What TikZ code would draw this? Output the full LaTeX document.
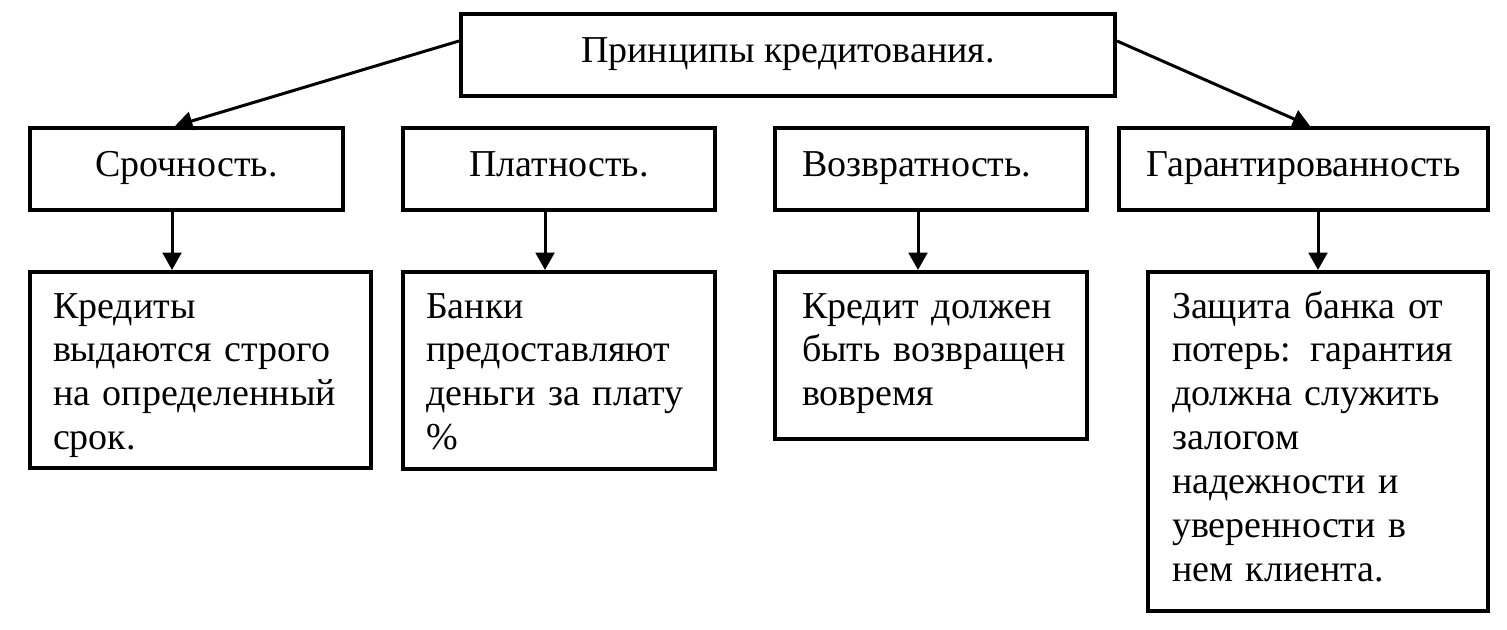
\documentclass[tikz,border=0pt]{standalone}
\usepackage{fontspec}
\setmainfont{Liberation Serif}
\usetikzlibrary{arrows.meta,calc}
\begin{document}
\begin{tikzpicture}[x=0.75pt,y=-0.75pt,
  every node/.style={font=\fontsize{28.5}{32.9}\selectfont, text=black},
  box/.style={draw=black, line width=3pt, rectangle, anchor=north west, inner sep=0pt,
    text height=18pt, text depth=7.5pt, minimum height=61.5pt, align=center},
  lowbox/.style={draw=black, line width=3pt, rectangle, anchor=north west, align=left,
    inner ysep=0pt, text height=34.5pt},
  arr/.style={line width=2.25pt, -{Triangle[length=13pt,width=14pt]}}
]
\useasboundingbox (0,0) rectangle (1507,629);
\fill[white] (0,0) rectangle (1507,629);

% top
\node[box, minimum width=490.5pt] (top) at (459,12) {Принципы кредитования.};

% second row
\node[box, minimum width=234.75pt] (a) at (28,126) {Срочность.};
\node[box, minimum width=234pt] (b) at (401,126) {Платность.};
\node[box, align=left, inner xsep=20.25pt, text width=193.5pt] (c) at (773,126) {Возвратность.};
\node[box, minimum width=276.75pt] (d) at (1117,126) {Гарантированность};

% third row
\node[lowbox, inner xsep=17.25pt, text width=221.25pt, text depth=112.5pt] (a2) at (28,270)
  {\mbox{Кредиты}\\\mbox{выдаются строго}\\\mbox{на определенный}\\\mbox{срок.}};
\node[lowbox, inner xsep=17.25pt, text width=199.5pt, text depth=113.25pt] (b2) at (401,270)
  {\mbox{Банки}\\\mbox{предоставляют}\\\mbox{деньги за плату}\\\mbox{\%}};
\node[lowbox, inner xsep=20.25pt, text width=193.5pt, text depth=90.75pt] (c2) at (773,270)
  {\mbox{Кредит должен}\\\mbox{быть возвращен}\\\mbox{вовремя}};
\node[lowbox, inner xsep=18pt, text width=219pt, text depth=219.75pt] (d2) at (1146,270)
  {\mbox{Защита банка от}\\\mbox{потерь: гарантия}\\\mbox{должна служить}\\\mbox{залогом}\\\mbox{надежности и}\\\mbox{уверенности в}\\\mbox{нем клиента.}};

% connector start points
\coordinate (as) at ($(a.south)+(-14.5,0)$);
\coordinate (bs) at ($(b.south)+(-14,0)$);
\coordinate (cs) at ($(c.south)+(-13,0)$);
\coordinate (ds) at ($(d.south)+(14.5,0)$);
\coordinate (tl) at ($(top.west)+(0,-14)$);
\coordinate (tr) at ($(top.east)+(0,-14)$);
\coordinate (ae) at ($(a.north)+(-11.5,0)$);
\coordinate (de) at ($(d.north)+(6.5,0)$);

% connectors
\draw[arr] (tl) -- (ae);
\draw[arr] (tr) -- (de);
\draw[arr] (as) -- (as |- a2.north);
\draw[arr] (bs) -- (bs |- b2.north);
\draw[arr] (cs) -- (cs |- c2.north);
\draw[arr] (ds) -- (ds |- d2.north);
\end{tikzpicture}
\end{document}
